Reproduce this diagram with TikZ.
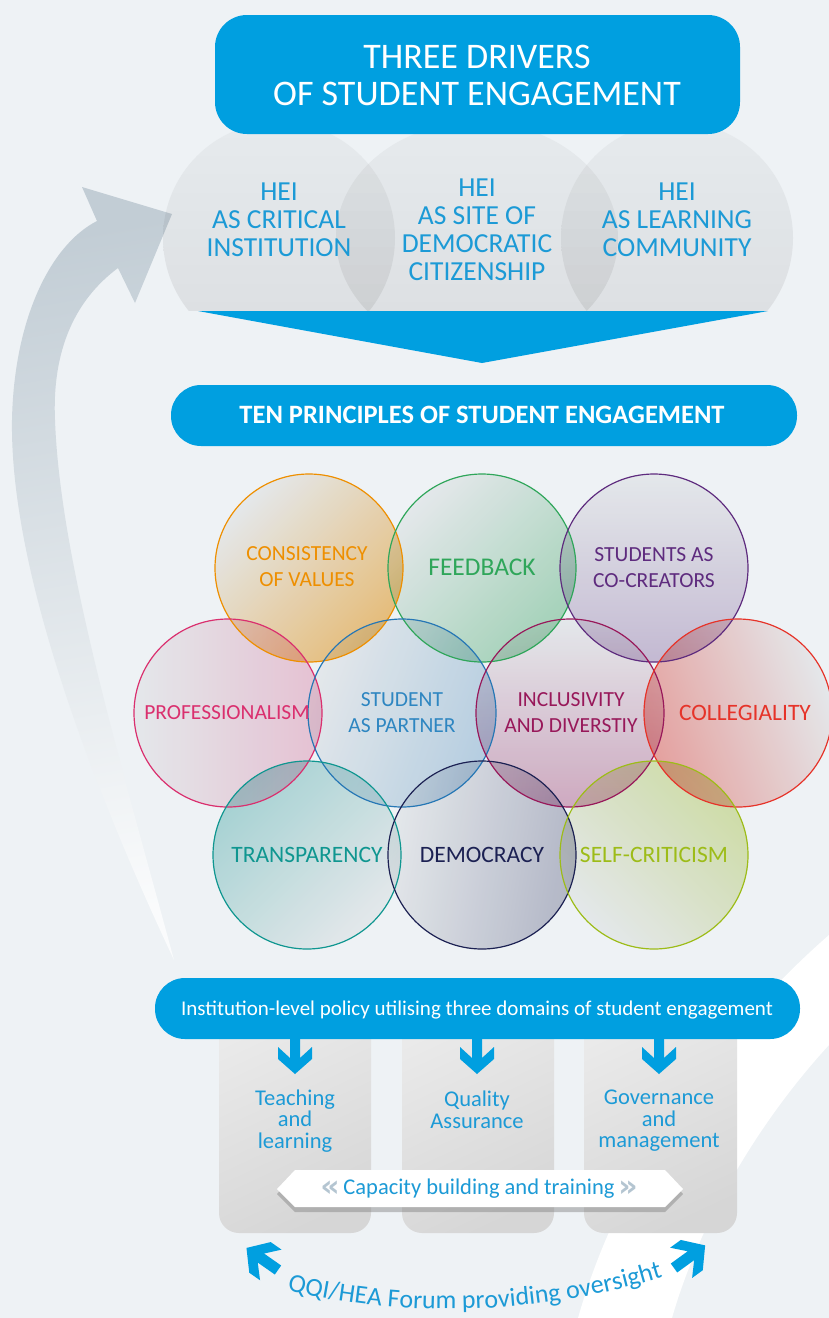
\documentclass[tikz,border=0pt]{standalone}
\usepackage{fontspec}
\setmainfont{Carlito}
\newfontfamily\chevfont{DejaVu Sans}
\usetikzlibrary{shadows,decorations.text}
\definecolor{bgc}{HTML}{EEF2F5}
\definecolor{qblue}{HTML}{009FE0}
\definecolor{tblue}{HTML}{1C9AD6}
\definecolor{arrowc}{HTML}{C2CDD5}
\definecolor{cOrange}{HTML}{EE8F00}
\definecolor{cGreen}{HTML}{2FA65A}
\definecolor{cPurple}{HTML}{5E2B7E}
\definecolor{cPink}{HTML}{DA2F6E}
\definecolor{cPartner}{HTML}{2677B5}
\definecolor{cPartnerT}{HTML}{2E86C1}
\definecolor{cIncl}{HTML}{98185A}
\definecolor{cRed}{HTML}{E63329}
\definecolor{cTeal}{HTML}{0F9690}
\definecolor{cNavy}{HTML}{1C2153}
\definecolor{cLime}{HTML}{9DBC18}
\definecolor{chevc}{HTML}{B4C5D1}
\newcommand\fsz[2]{\fontsize{#1}{#2}\selectfont}
\tikzset{
  pill/.style={fill=qblue},
  drvtext/.style={font=\fsz{27.5}{28}, text=tblue, align=center},
  ptext/.style={font=\fsz{21.5}{26}, align=center},
  ptextb/.style={font=\fsz{23.5}{26}, align=center},
  coltext/.style={font=\fsz{22.5}{21.5}, text=tblue, align=center},
  circline/.style={line width=1.2pt},
  chevarrow/.pic={\fill[qblue] (0,5)--(19,5)--(8,17)--(20,17)--(35,0)--(20,-17)--(8,-17)--(19,-5)--(0,-5)--cycle;}
}
\begin{document}
\begin{tikzpicture}[x=1pt,y=1pt]
\useasboundingbox (0,0) rectangle (829,-1318);
\fill[bgc] (0,0) rectangle (829,-1318);

% white swoosh
\fill[white] (829,-935) .. controls (720,-1030) and (620,-1170) .. (578,-1318) -- (672,-1318) .. controls (700,-1220) and (760,-1120) .. (829,-1045) -- cycle;

% big curved arrow on the left
\shade[top color=arrowc, bottom color=white!70!bgc, shading angle=10]
  (174,-960) .. controls (80,-760) and (10,-560) .. (12,-420)
  .. controls (14,-320) and (50,-245) .. (97,-221)
  -- (82,-187) -- (172,-214) -- (135,-303) -- (118,-268)
  .. controls (75,-300) and (52,-350) .. (55,-420)
  .. controls (60,-560) and (120,-760) .. (174,-960) -- cycle;

% three drivers ellipses
\begin{scope}[blend mode=multiply]
  \shade[top color=white!97!black, bottom color=white!92!black] (279,-238) ellipse[x radius=116, y radius=116];
  \shade[top color=white!97!black, bottom color=white!92!black] (477,-238) ellipse[x radius=141, y radius=116];
  \shade[top color=white!97!black, bottom color=white!92!black] (677,-238) ellipse[x radius=116, y radius=116];
\end{scope}
\fill[bgc] (150,-311) rectangle (800,-370);
\fill[qblue] (198,-311) -- (768,-311) -- (482,-363) -- cycle;

% title box
\fill[pill, rounded corners=32] (215,-15) rectangle (740,-134);
\node[font=\fsz{36}{37}, text=white, align=center] (title) at (477,-75) {THREE DRIVERS\\OF STUDENT ENGAGEMENT};

\node[drvtext] (d1) at (279,-220) {HEI\\AS CRITICAL\\INSTITUTION};
\node[drvtext] (d2) at (477,-230) {HEI\\AS SITE OF\\DEMOCRATIC\\CITIZENSHIP};
\node[drvtext] (d3) at (677,-220) {HEI\\AS LEARNING\\COMMUNITY};

% ten principles pill
\fill[pill, rounded corners=30] (171,-385) rectangle (797,-446);
\node[font=\bfseries\fsz{26.5}{28}, text=white] (ten) at (482,-415) {TEN PRINCIPLES OF STUDENT ENGAGEMENT};

% circles fills
\begin{scope}[blend mode=multiply]
  \shade[top color=cOrange!50!white, bottom color=white!96!black, shading angle=-135] (309,-568) circle (94);
  \shade[top color=cGreen!38!white, bottom color=white!96!black, shading angle=-135] (482,-568) circle (94);
  \shade[top color=cPurple!28!white, bottom color=white!96!black, shading angle=-180] (654,-568) circle (94);
  \shade[top color=cPink!25!white, bottom color=white!96!black, shading angle=-90] (228,-713) circle (94);
  \shade[top color=cPartner!28!white, bottom color=white!96!black, shading angle=-110] (402,-713) circle (94);
  \shade[top color=cIncl!33!white, bottom color=white!96!black, shading angle=-180] (570,-713) circle (94);
  \shade[top color=cRed!42!white, bottom color=white!96!black, shading angle=110] (738,-713) circle (94);
  \shade[top color=cTeal!32!white, bottom color=white!96!black, shading angle=45] (307,-855) circle (94);
  \shade[top color=cNavy!28!white, bottom color=white!96!black, shading angle=-100] (482,-855) circle (94);
  \shade[top color=cLime!35!white, bottom color=white!96!black, shading angle=-45] (654,-855) circle (94);
\end{scope}
\draw[circline, cOrange] (309,-568) circle (94);
\draw[circline, cGreen] (482,-568) circle (94);
\draw[circline, cPurple] (654,-568) circle (94);
\draw[circline, cPink] (228,-713) circle (94);
\draw[circline, cPartner] (402,-713) circle (94);
\draw[circline, cIncl] (570,-713) circle (94);
\draw[circline, cRed] (738,-713) circle (94);
\draw[circline, cTeal] (307,-855) circle (94);
\draw[circline, cNavy] (482,-855) circle (94);
\draw[circline, cLime] (654,-855) circle (94);

\node[ptext, text=cOrange] (p1) at (307,-567) {CONSISTENCY\\OF VALUES};
\node[font=\fsz{25.5}{26}, text=cGreen] (p2) at (482,-567) {FEEDBACK};
\node[ptext, text=cPurple] (p3) at (654,-568) {STUDENTS AS\\CO-CREATORS};
\node[ptext, text=cPink] (p4) at (227,-713) {PROFESSIONALISM};
\node[ptext, text=cPartnerT] (p5) at (402,-713) {STUDENT\\AS PARTNER};
\node[ptext, text=cIncl] (p6) at (571,-713) {INCLUSIVITY\\AND DIVERSTIY};
\node[ptextb, text=cRed] (p7) at (745,-713) {COLLEGIALITY};
\node[ptextb, text=cTeal] (p8) at (307,-855) {TRANSPARENCY};
\node[ptextb, text=cNavy] (p9) at (482,-855) {DEMOCRACY};
\node[ptextb, text=cLime] (p10) at (654,-855) {SELF-CRITICISM};

% columns
\shade[rounded corners=20, top color=white!92!black, bottom color=white!84!black, shading angle=25] (219,-1000) rectangle (371,-1233);
\shade[rounded corners=20, top color=white!92!black, bottom color=white!84!black, shading angle=25] (402,-1000) rectangle (554,-1233);
\shade[rounded corners=20, top color=white!92!black, bottom color=white!84!black, shading angle=25] (584,-1000) rectangle (737,-1233);

% policy pill
\fill[pill, rounded corners=30] (155,-978) rectangle (800,-1039);
\node[font=\fsz{21}{22}, text=white] (policy) at (477,-1010) {Institution-level policy utilising three domains of student engagement};

% down arrows
\pic[rotate=-90] at (295,-1039) {chevarrow};
\pic[rotate=-90] at (477,-1039) {chevarrow};
\pic[rotate=-90] at (659,-1039) {chevarrow};

\node[coltext] (c1) at (295,-1121) {Teaching\\and\\learning};
\node[coltext] (c2) at (477,-1110) {Quality\\Assurance};
\node[coltext] (c3) at (659,-1121) {Governance\\and\\management};

% capacity banner
\fill[white, drop shadow={opacity=0.45, shadow xshift=0pt, shadow yshift=-5pt}] (277,-1189) -- (295,-1170) -- (665,-1170) -- (683,-1189) -- (665,-1207) -- (295,-1207) -- cycle;
\node[font=\fsz{22.5}{23}, text=tblue, inner sep=0pt] (cap) at (479,-1189) {\textcolor{chevc}{\chevfont\bfseries\fsz{30}{30}\raisebox{-2pt}{«}}\,Capacity building and training\,\textcolor{chevc}{\chevfont\bfseries\fsz{30}{30}\raisebox{-2pt}{»}}};

% oversight arrows
\pic[rotate=145, scale=1.1] at (278,-1270) {chevarrow};
\pic[rotate=36, scale=1.1] at (674,-1268) {chevarrow};

\path[decorate, decoration={text along path, text align=center,
  text={|\fsz{26}{26}\color{tblue}|QQI/HEA Forum providing oversight}}]
  (450,-589) ++(256.3:720) arc[start angle=256.3, end angle=287.8, radius=720];
\end{tikzpicture}
\end{document}
